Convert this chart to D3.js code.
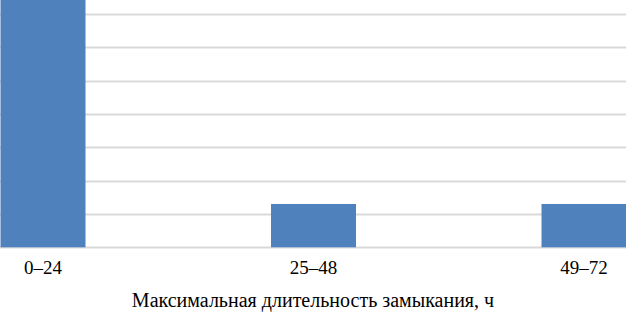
<!DOCTYPE html>
<html>
<head>
<meta charset="utf-8">
<script src="https://cdn.jsdelivr.net/npm/d3@7"></script>
<style>
    body { margin: 0; background: #fff; }
    svg { display: block; }
    text { font-family: 'Liberation Serif', 'DejaVu Serif', 'Times New Roman', serif; fill: #000; }
    .cat { font-size: 19px; }
    .title { font-size: 20px; }
</style>
</head>
<body>
<svg id="drawing_region"></svg>
<script>
// values (grid step 10, first bar runs off the top)
const categories = ['0–24', '25–48', '49–72'];
const values = [75, 13, 13];
const gridTicks = [0, 10, 20, 30, 40, 50, 60, 70];
const axisTitle = 'Максимальная длительность замыкания, ч';

const width = 626, height = 313;

const svg = d3.select('#drawing_region')
    .attr('width', width)
    .attr('height', height);

const x = d3.scaleBand()
    .domain(categories)
    .range([-92.25, 719.25])
    .paddingInner(0.6858)
    .paddingOuter(0.3429);

const y = d3.scaleLinear()
    .domain([0, 70])
    .range([247.3, 14]);

// gridlines
svg.append('g')
    .selectAll('line')
    .data(gridTicks)
    .enter()
    .append('line')
    .attr('x1', 0)
    .attr('x2', width)
    .attr('y1', d => Math.round(y(d)) + 0.5)
    .attr('y2', d => Math.round(y(d)) + 0.5)
    .attr('stroke', '#d9d9d9')
    .attr('stroke-width', 2);

// bars
svg.append('g')
    .selectAll('rect')
    .data(values)
    .enter()
    .append('rect')
    .attr('x', (d, i) => x(categories[i]))
    .attr('width', x.bandwidth())
    .attr('y', d => y(d))
    .attr('height', d => y(0) - y(d))
    .attr('fill', '#4f81bd');

// category labels
svg.append('g')
    .selectAll('text')
    .data(categories)
    .enter()
    .append('text')
    .attr('class', 'cat')
    .attr('x', d => x(d) + x.bandwidth() / 2)
    .attr('y', 274)
    .attr('text-anchor', 'middle')
    .text(d => d);

svg.append('text')
    .attr('class', 'title')
    .attr('x', width / 2)
    .attr('y', 307)
    .attr('text-anchor', 'middle')
    .text(axisTitle);
</script>
</body>
</html>
